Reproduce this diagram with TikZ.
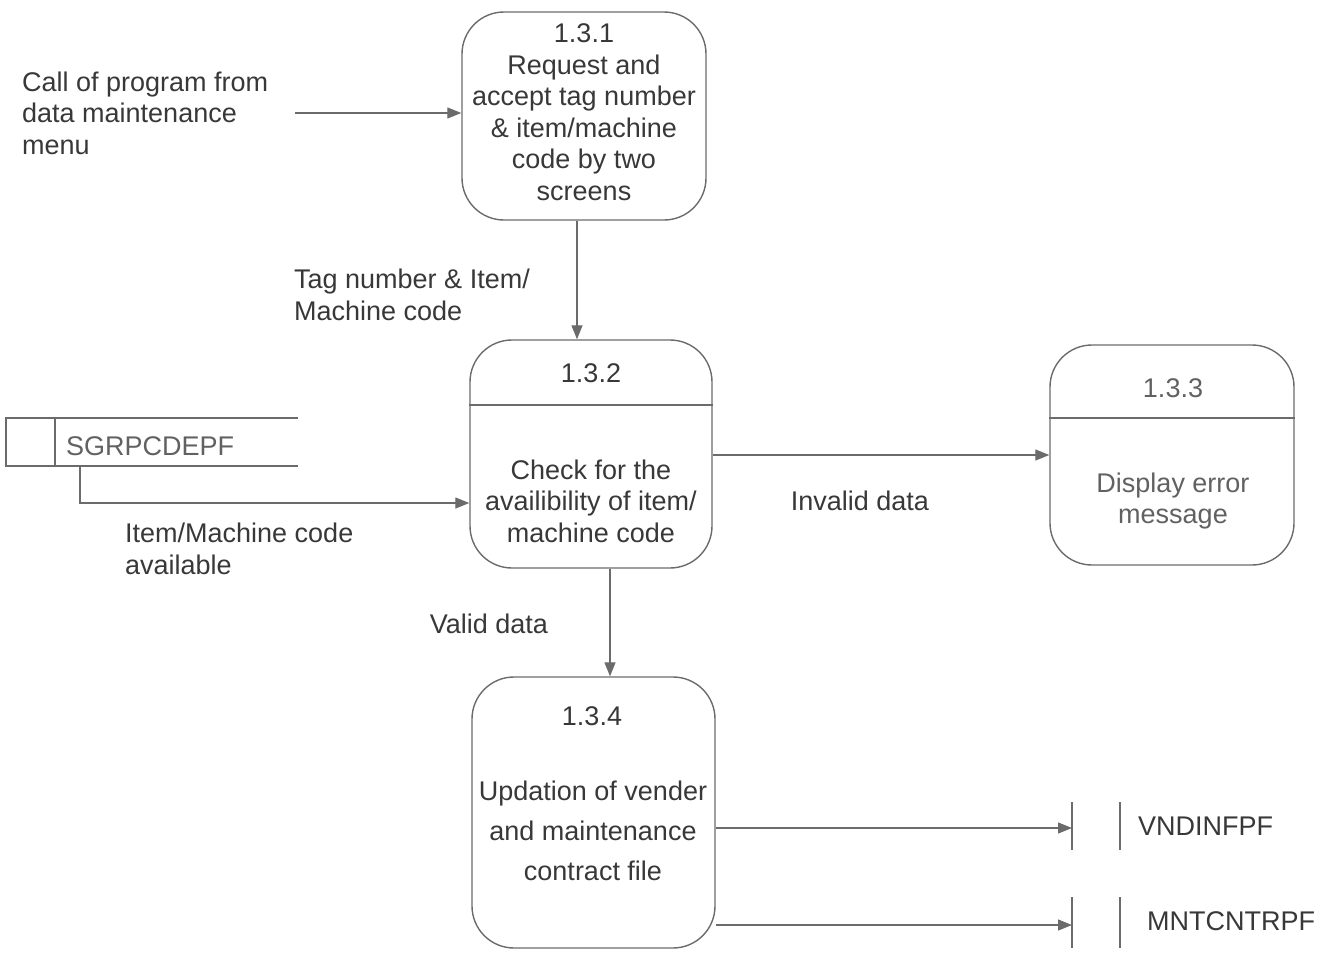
\documentclass[tikz,border=0pt]{standalone}
\usepackage{fontspec}
\setmainfont{Liberation Sans}
\usetikzlibrary{arrows.meta}
\definecolor{ink}{gray}{0.22}
\definecolor{lite}{gray}{0.38}
\definecolor{edge}{gray}{0.42}
\tikzset{
  proc/.style={draw=edge, line width=1.4pt, rounded corners=42pt, inner sep=0pt},
  txt/.style={inner sep=0pt, text=ink, font=\fontsize{27}{31.5}\selectfont, align=center},
  ltxt/.style={txt, align=left, anchor=west},
  flow/.style={draw=edge, line width=1.3pt, -{Triangle[length=14pt,width=11pt]}},
  div/.style={draw=edge, line width=1.2pt},
  store/.style={draw=edge, line width=1.2pt}
}
\begin{document}
\begin{tikzpicture}[x=1pt,y=-1pt]
\useasboundingbox (0,0) rectangle (1331,953);
% processes
\node[proc, minimum width=244pt, minimum height=208pt] (p1) at (584,116) {};
\node[proc, minimum width=242pt, minimum height=228pt] (p2) at (591,454) {};
\node[proc, minimum width=244pt, minimum height=220pt] (p3) at (1172,455) {};
\node[proc, minimum width=243pt, minimum height=271pt] (p4) at (593.5,812.5) {};
\draw[div] (p2.west |- 0,405) -- (p2.east |- 0,405);
\draw[div] (p3.west |- 0,418) -- (p3.east |- 0,418);
% process texts
\node[txt] (t1) at (584,112) {1.3.1\\Request and\\accept tag number\\\& item/machine\\code by two\\screens};
\node[txt] (n2) at (591,373) {1.3.2};
\node[txt] (t2) at (591,501) {Check for the\\availibility of item/\\machine code};
\node[txt, text=lite] (n3) at (1173,388) {1.3.3};
\node[txt, text=lite] (t3) at (1173,501) {Display error\\message};
\node[txt] (n4) at (592,716) {1.3.4};
\node[txt, font=\fontsize{27}{40}\selectfont] (t4) at (593,831) {Updation of vender\\and maintenance\\contract file};
% labels
\node[ltxt] (lcall) at (22,113) {Call of program from\\data maintenance\\menu};
\node[ltxt] (ltag) at (294,295) {Tag number \& Item/\\Machine code};
\node[ltxt] (lavail) at (125,549) {Item/Machine code\\available};
\node[txt] (linv) at (860,501) {Invalid data};
\node[txt] (lval) at (489,624) {Valid data};
% data store SGRPCDEPF
\coordinate (s1tl) at (6,418);
\coordinate (s1br) at (55,466);
\draw[store] (298,418) -- (6,418) -- (6,466) -- (298,466);
\draw[store] (55,418) -- (55,466);
\node[ltxt, text=lite] (s1) at (66,446) {SGRPCDEPF};
\coordinate (s1out) at (80,466);
% data stores VNDINFPF, MNTCNTRPF
\coordinate (s2a) at (1072,802); \coordinate (s2b) at (1072,850);
\draw[store] (s2a) -- (s2b);
\draw[store] (1120,802) -- (1120,850);
\node[ltxt] (s2) at (1138,826) {VNDINFPF};
\coordinate (s3a) at (1072,897); \coordinate (s3b) at (1072,948);
\draw[store] (s3a) -- (s3b);
\draw[store] (1120,897) -- (1120,948);
\node[ltxt] (s3) at (1147,921) {MNTCNTRPF};
% flows
\coordinate (cstart) at (295,113);
\draw[flow] (cstart) -- (p1.west |- cstart);
\draw[flow] (p1.south -| 577,0) -- (p2.north -| 577,0);
\draw[flow] (s1out) |- (p2.west |- 0,503);
\draw[flow] (p2.east |- 0,455) -- (p3.west |- 0,455);
\draw[flow] (p2.south -| 610,0) -- (p4.north -| 610,0);
\draw[flow] (p4.east |- 0,828) -- (s2a |- 0,828);
\draw[flow] (p4.east |- 0,925) -- (s3a |- 0,925);
\end{tikzpicture}
\end{document}
